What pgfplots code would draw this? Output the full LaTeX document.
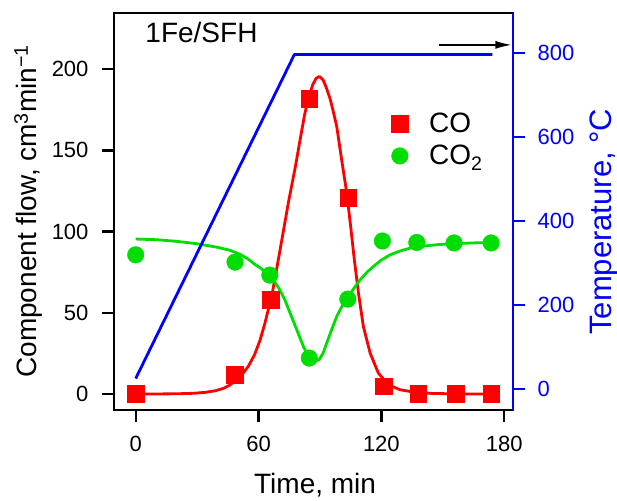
\documentclass[border=0pt]{standalone}
\usepackage{pgfplots}
\pgfplotsset{compat=1.18}
\usepackage{fontspec}
\setmainfont{Liberation Sans}
\usetikzlibrary{arrows.meta}

\definecolor{cored}{RGB}{255,0,0}
\definecolor{cogreen}{RGB}{0,221,0}
\definecolor{tblue}{RGB}{0,0,255}

% measured points
\pgfplotstableread{
t    y
0    0
48.5 11.9
65.8 58
84.8 182
103.8 121
121  4.7
138  0.2
156.3 0
173.6 0
}\copts
\pgfplotstableread{
t    y
0    85.7
48.5 81.2
65.5 73.2
84.8 22.1
103.6 58.4
120.5 94.2
137.3 93.3
155.5 93
173.6 93
}\cotwopts

\begin{document}
\begin{tikzpicture}
\pgfplotsset{
  every axis/.append style={
    scale only axis, width=399pt, height=397pt,
    xmin=-10.6, xmax=184.3,
    axis line style={line width=2.3pt},
    major tick length=12pt, tick align=outside,
    /pgf/number format/assume math mode=true,
    tick label style={font=\fontsize{22}{24}\selectfont},
    label style={font=\fontsize{28}{30}\selectfont},
  }
}
\begin{axis}[
  ymin=-9.7, ymax=234.8,
  xtick={0,60,120,180}, ytick={0,50,100,150,200},
  xtick pos=bottom, ytick pos=left,
  tick style={black, line width=2.3pt},
  xticklabel style={yshift=-11pt},
  yticklabel style={xshift=-10pt},
  xlabel={Time, min},
  ylabel={Component flow, cm\textsuperscript{3}min\textsuperscript{−1}},
  xlabel style={at={(axis description cs:0.504,-0.2116)}, anchor=base},
  ylabel style={at={(axis description cs:-0.193,0.5)}, anchor=base},
  legend style={at={(rel axis cs:0.6876,0.757)}, anchor=north west, draw=none, fill=none,
    font=\fontsize{28}{30}\selectfont, row sep=7pt,
    /tikz/every odd column/.append style={column sep=19pt}},
  legend cell align=left,
]
\addplot[cored, line width=2.8pt, line join=round, forget plot] coordinates {
(0,0) (10,0) (20,0.1) (28,0.4) (34,1) (39,2) (43,3.5) (46,5.5) (49,8.5) (52,12)
(55,17) (58,24) (60.7,33) (63,43) (65,53) (67,64) (70,85) (74.6,118) (78,140)
(80.3,156.5) (82.5,172) (84.5,183) (86.5,190.5) (88.2,194.5) (89.7,195.5)
(91.5,193.5) (93,189) (94.9,182) (96.5,174) (98.2,164.7) (100.6,144.2)
(103.1,123.7) (105,103.1) (106.8,82.6) (108.8,62.2) (111.2,41.6) (114.5,25.2)
(118.5,12.9) (123.4,5.7) (129.1,2.6) (135.6,1.2) (145,0.3) (160,0) (174,0)
};
\addplot[cogreen, line width=2.8pt, line join=round, forget plot] coordinates {
(0,95.4) (10,95) (20,94) (30,92.5) (40,90.3) (46,88.5) (51,86) (55,83) (58,80)
(61,77.5) (64,74.5) (67,70.5) (70,65) (73,57.5) (76,48) (79,38.5) (82,29)
(84.5,22.5) (87,20) (89.5,21) (91.5,25) (93.3,31.4) (95.7,39.5) (98.2,47.8)
(101,54.5) (103.4,59) (106,64) (109.6,70.3) (113,75) (116.1,78.5) (120,82.5)
(124.3,85.7) (129,88) (134,89.8) (140,91) (148,92) (156,92.6) (165,93) (174,93.3)
};
\addplot[only marks, mark=square*, mark size=8.3pt, cored, mark options={draw=none, fill=cored}]
  table[x=t, y=y] {\copts};
\addlegendentry{CO}
\addplot[only marks, mark=*, mark size=8.3pt, cogreen, mark options={draw=none, fill=cogreen}]
  table[x=t, y=y] {\cotwopts};
\addlegendentry{CO\textsubscript{2}}
\node[anchor=base west, font=\fontsize{28}{30}\selectfont] at (rel axis cs:0.07,0.924) {1Fe/SFH};
\end{axis}
\begin{axis}[
  ymin=-49.3, ymax=896.7,
  axis x line=none, axis y line*=right,
  ytick={0,200,400,600,800},
  y axis line style={tblue, line width=2.3pt},
  tick style={tblue, line width=2.3pt},
  yticklabel style={tblue, xshift=9pt},
  ylabel={Temperature, °C},
  ylabel style={tblue, font=\fontsize{31}{33}\selectfont,
    at={(axis description cs:1.247,0.4736)}, anchor=base, rotate=0},
]
\addplot[tblue, line width=2.8pt, line join=round] coordinates {(0,25) (77.5,797) (174.2,797)};
\draw[-{Latex[length=16pt,width=8pt]}, line width=1.3pt, black] (axis cs:148,820) -- (axis cs:183.5,820);
\end{axis}
\pgfresetboundingbox
\path ([shift={(-114pt,-91pt)}]current axis.south west) rectangle ([shift={(104pt,12.7pt)}]current axis.north east);
\end{tikzpicture}
\end{document}
